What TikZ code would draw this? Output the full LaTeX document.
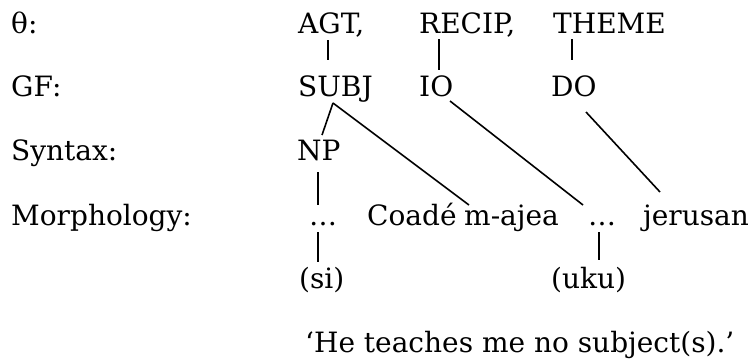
\documentclass[tikz,border=0pt]{standalone}
\usepackage{fontspec}
\setmainfont{DejaVu Serif}
\usetikzlibrary{calc}
\begin{document}
\begin{tikzpicture}[x=1pt,y=-1pt,
  lbl/.style={anchor=base west,inner sep=0pt,font=\fontsize{28}{34}\selectfont},
  link/.style={line width=1.6pt}]
\useasboundingbox (0,0) rectangle (752,360);

% tier labels
\node[lbl] (theta) at (11,33)  {θ:};
\node[lbl] (gf)    at (11,96)  {GF:};
\node[lbl] (syn)   at (11,160) {Syntax:};
\node[lbl] (morph) at (11,225) {Morphology:};

% theta roles
\node[lbl] (agt)   at (298,33) {AGT,};
\node[lbl] (recip) at (419,33) {RECIP,};
\node[lbl] (theme) at (553,33) {THEME};

% grammatical functions
\node[lbl] (subj) at (298,96) {SUBJ};
\node[lbl] (io)   at (419,96) {IO};
\node[lbl] (do)   at (551,96) {DO};

% syntax
\node[lbl] (np) at (297,160) {NP};

% morphology
\node[lbl] (dotsa)   at (309,225) {…};
\node[lbl] (coade)   at (367,225) {Coadé};
\node[lbl] (majea)   at (464,225) {m-ajea};
\node[lbl] (dotsb)   at (588,225) {…};
\node[lbl] (jerusan) at (643,225) {jerusan};

% forms and gloss
\node[lbl] (si)    at (299,288) {(si)};
\node[lbl] (uku)   at (551,288) {(uku)};
\node[lbl] (gloss) at (305,352) {‘He teaches me no subject(s).’};

% association lines
\draw[link] ($(agt.base west)+(30,7)$)   -- ($(subj.base west)+(30,-36)$);
\draw[link] ($(recip.base west)+(20,6)$) -- ($(io.base west)+(20,-26)$);
\draw[link] ($(theme.base west)+(19,6)$) -- ($(do.base west)+(21,-36)$);
\draw[link] ($(subj.base west)+(35,7)$)  -- ($(np.base west)+(25,-25)$);
\draw[link] ($(subj.base west)+(35,7)$)  -- ($(majea.base west)+(5,-20)$);
\draw[link] ($(io.base west)+(31,5)$)    -- ($(dotsb.base west)+(-5,-20)$);
\draw[link] ($(do.base west)+(35,16)$)   -- ($(jerusan.base west)+(17,-33)$);
\draw[link] ($(np.base west)+(21,12)$)   -- ($(dotsa.base west)+(9,-20)$);
\draw[link] ($(dotsa.base west)+(9,7)$)  -- ($(si.base west)+(19,-26)$);
\draw[link] ($(dotsb.base west)+(11,7)$) -- ($(uku.base west)+(48,-28)$);
\end{tikzpicture}
\end{document}
